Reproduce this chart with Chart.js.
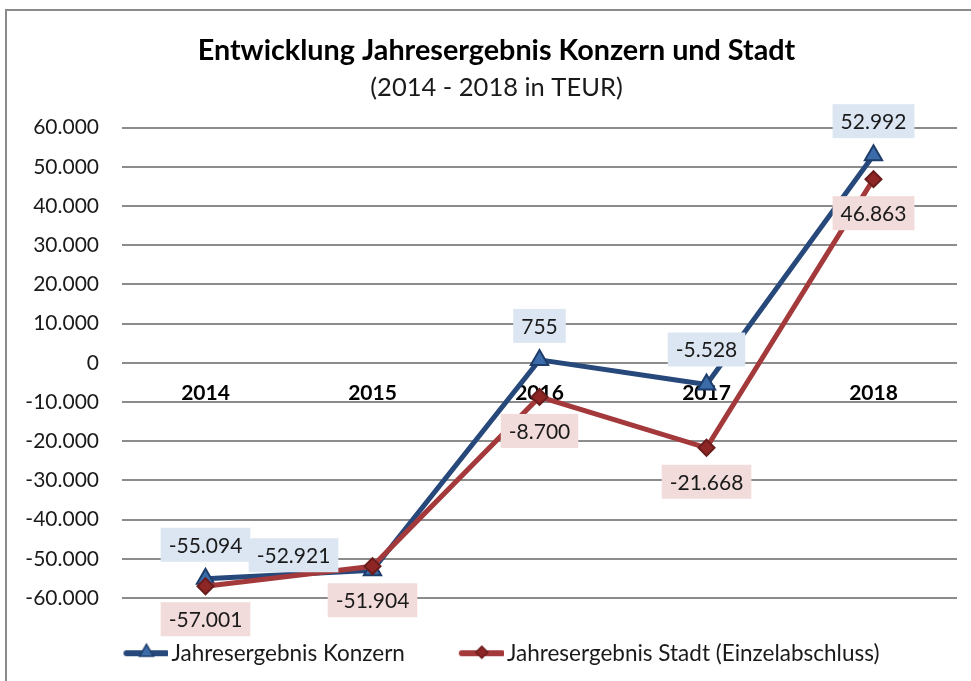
<!DOCTYPE html>
<html><head><meta charset="utf-8">
<script src="https://cdn.jsdelivr.net/npm/chart.js@4.4.1/dist/chart.umd.min.js"></script>
<style>
html,body{margin:0;padding:0;background:#fff;overflow:hidden;width:971px;height:681px;}
#frame{position:absolute;left:5px;top:9px;width:1000px;height:720px;border:2px solid #8a8a8a;box-sizing:border-box;}
#wrap{position:absolute;left:0;top:0;width:971px;height:681px;}
</style></head><body>
<div id="frame"></div>
<div id="wrap"><canvas id="c" width="971" height="681"></canvas></div>
<script>
const categories = ['2014', '2015', '2016', '2017', '2018'];
const konzernValues = [-55094, -52921, 755, -5528, 52992];
const stadtValues = [-57001, -51904, -8700, -21668, 46863];
const yMin = -60000, yMax = 60000, yStep = 10000;
const seriesNames = ['Jahresergebnis Konzern', 'Jahresergebnis Stadt (Einzelabschluss)'];
const titleText = 'Entwicklung Jahresergebnis Konzern und Stadt';
const subtitleText = '(2014 - 2018 in TEUR)';

const FONT = 'Lato, "Open Sans", sans-serif';
const TICK_SIZE = 21;
const blueLine = '#26487a', blueFill = '#3b6ca9', blueBorder = '#1f3d6b';
const redLine = '#a3393a', redFill = '#8e2626', redBorder = '#6b1d1d';

function fmt(v) {
  const s = Math.abs(Math.round(v)).toString().replace(/\B(?=(\d{3})+(?!\d))/g, '.');
  return (v < 0 ? '-' : '') + s;
}

// widest y tick label (used to right-align mirrored labels left of the plot)
const mctx = document.createElement('canvas').getContext('2d');
mctx.font = TICK_SIZE + 'px ' + FONT;
let widestTick = 0;
for (let v = yMin; v <= yMax; v += yStep) widestTick = Math.max(widestTick, mctx.measureText(fmt(v)).width);

function legendImg(line, fill, border, style, radius) {
  const c = document.createElement('canvas');
  c.width = 63; c.height = 24;
  const g = c.getContext('2d');
  g.strokeStyle = line; g.lineWidth = 6; g.lineCap = 'round';
  g.beginPath(); g.moveTo(21, 12); g.lineTo(61, 12); g.stroke();
  g.fillStyle = fill; g.strokeStyle = border; g.lineWidth = 1.5;
  Chart.helpers.drawPoint(g, {pointStyle: style, radius: radius, borderWidth: 1.5, rotation: 0}, 41, 11);
  return c;
}
const legendImgs = [
  legendImg(blueLine, blueFill, blueBorder, 'triangle', 8),
  legendImg(redLine, redFill, redBorder, 'rectRot', 6)
];

const valueLabels = {
  id: 'valueLabels',
  afterDatasetsDraw(chart, args, opts) {
    const ctx = chart.ctx;
    chart.data.datasets.forEach((ds, di) => {
      const meta = chart.getDatasetMeta(di);
      meta.data.forEach((pt, i) => {
        const text = fmt(ds.data[i]);
        const off = opts.offsets[di][i];
        ctx.save();
        ctx.font = opts.font;
        const w = ctx.measureText(text).width + 2 * opts.padX;
        const h = opts.height;
        const cx = pt.x + off[0], cy = pt.y + off[1];
        ctx.fillStyle = opts.backgrounds[di];
        ctx.fillRect(cx - w / 2, cy - h / 2, w, h);
        ctx.fillStyle = opts.color;
        ctx.textAlign = 'center';
        ctx.textBaseline = 'middle';
        ctx.fillText(text, cx, cy + 1);
        ctx.restore();
      });
    });
  }
};

new Chart(document.getElementById('c'), {
  type: 'line',
  data: {
    labels: categories,
    datasets: [
      {
        label: seriesNames[0], data: konzernValues, order: 1,
        borderColor: blueLine, borderWidth: 5, tension: 0,
        pointStyle: 'triangle', pointRadius: 10, pointBackgroundColor: blueFill,
        pointBorderColor: blueBorder, pointBorderWidth: 2
      },
      {
        label: seriesNames[1], data: stadtValues, order: 0,
        borderColor: redLine, borderWidth: 5, tension: 0,
        pointStyle: 'rectRot', pointRadius: 8, pointBackgroundColor: redFill,
        pointBorderColor: redBorder, pointBorderWidth: 2
      }
    ]
  },
  options: {
    responsive: false,
    animation: false,
    layout: {padding: {left: 36, right: 14, top: 0, bottom: 6.5}},
    scales: {
      x: {
        type: 'category', position: {y: 0}, offset: true, z: 1,
        grid: {display: false, drawTicks: true, tickLength: 18},
        border: {display: false},
        ticks: {autoSkip: false, maxRotation: 0, minRotation: 0, padding: 0, color: '#000',
          font: {family: FONT, size: 21, weight: 'bold'}}
      },
      y: {
        min: yMin, max: yMax,
        grid: {color: '#8c8c8c', lineWidth: 2, drawTicks: false},
        border: {display: false},
        ticks: {stepSize: yStep, mirror: true, crossAlign: 'far', padding: -23 - widestTick,
          color: '#1a1a1a', callback: v => fmt(v), font: {family: FONT, size: TICK_SIZE}},
        afterFit: s => { s.width = 86; }
      }
    },
    plugins: {
      title: {display: true, text: titleText, color: '#000',
        font: {family: FONT, size: 28.75, weight: 'bold'}, padding: {top: 33, bottom: 0}},
      subtitle: {display: true, text: subtitleText, color: '#1a1a1a',
        font: {family: FONT, size: 25.5}, padding: {top: 5, bottom: 24.6}},
      legend: {
        position: 'bottom',
        labels: {
          usePointStyle: true, pointStyleWidth: 46.75, padding: 44, color: '#1a1a1a',
          font: {family: FONT, size: 22.5},
          generateLabels: chart => chart.data.datasets.map((ds, i) => ({
            text: ds.label, pointStyle: legendImgs[i], fillStyle: 'transparent',
            strokeStyle: 'transparent', lineWidth: 0, hidden: false, datasetIndex: i, fontColor: '#1a1a1a'
          }))
        }
      },
      tooltip: {enabled: false},
      valueLabels: {
        font: '21px ' + FONT, padX: 8, height: 34, color: '#1a1a1a',
        backgrounds: ['#dce6f2', '#f2dcdb'],
        offsets: [
          [[0, -34], [-79, -15], [0, -34], [0, -35], [0, -34]],
          [[0, 33], [0, 34], [0, 34], [0, 34], [0, 34]]
        ]
      }
    }
  },
  plugins: [valueLabels]
});
</script>
</body></html>
